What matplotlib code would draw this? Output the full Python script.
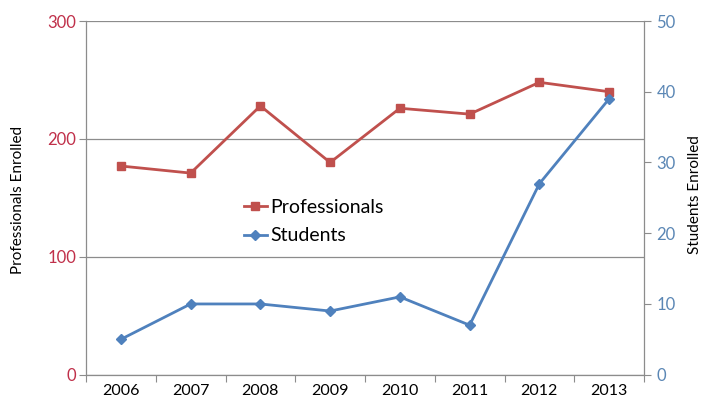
import matplotlib
matplotlib.use('Agg')
import matplotlib.pyplot as plt
from matplotlib.lines import Line2D

plt.rcParams['font.family'] = ['Lato', 'DejaVu Sans']

# data
years = ['2006', '2007', '2008', '2009', '2010', '2011', '2012', '2013']
professionals = [177, 171, 228, 180, 226, 221, 248, 240]
students = [5, 10, 10, 9, 11, 7, 27, 39]

red = '#C0504D'
blue = '#4F81BD'
grid_c = '#8C8C8C'

fig = plt.figure(figsize=(7.03, 4.05), dpi=100)
ax = fig.add_axes([86 / 703, 1 - 374.7 / 405, (644 - 86) / 703, (374.7 - 21) / 405])
ax2 = ax.twinx()

x = list(range(len(years)))
ax.plot(x, professionals, color=red, lw=2, marker='s', ms=6, zorder=3)
ax2.plot(x, students, color=blue, lw=2, marker='D', ms=5.5, zorder=3)

ax.set_xlim(-0.5, len(years) - 0.5)
ax.set_ylim(0, 300)
ax.set_yticks([0, 100, 200, 300])
ax2.set_ylim(0, 50)
ax2.set_yticks([0, 10, 20, 30, 40, 50])

# category boundaries get the tick marks, centres get the labels
ax.set_xticks([i - 0.5 for i in range(len(years) + 1)])
ax.set_xticklabels([])
ax.set_xticks(x, minor=True)
ax.set_xticklabels(years, minor=True, fontsize=11.5)
ax.tick_params(axis='x', which='major', length=5, color=grid_c, direction='out')
ax.tick_params(axis='x', which='minor', length=0, pad=7)

ax.tick_params(axis='y', length=5, color=grid_c, labelcolor='#C0304A', labelsize=12, pad=2)
ax2.tick_params(axis='y', length=5, color=grid_c, labelcolor='#5B87B5', labelsize=12, pad=4)

ax.grid(True, axis='y', color=grid_c, lw=0.9)
ax.set_axisbelow(True)
for a in (ax, ax2):
    a.spines['top'].set_visible(False)
    for s in ('left', 'right', 'bottom'):
        a.spines[s].set_color(grid_c)
        a.spines[s].set_linewidth(0.9)
ax.spines['right'].set_visible(False)
ax2.spines['left'].set_visible(False)
ax2.spines['bottom'].set_visible(False)

fig.text(18 / 703, 1 - 200 / 405, 'Professionals Enrolled', rotation=90,
         ha='center', va='center', fontsize=11)
fig.text(695 / 703, 1 - 195 / 405, 'Students Enrolled', rotation=90,
         ha='center', va='center', fontsize=11)

handles = [Line2D([], [], color=red, lw=2, marker='s', ms=5.5),
           Line2D([], [], color=blue, lw=2, marker='D', ms=5)]
fig.legend(handles, ['Professionals', 'Students'], loc='upper left',
           bbox_to_anchor=(234 / 703, 1 - 189 / 405), frameon=False,
           fontsize=14, handlelength=1.2, handletextpad=0.15,
           labelspacing=0.6, borderpad=0)

fig.savefig('out.png', dpi=100)
